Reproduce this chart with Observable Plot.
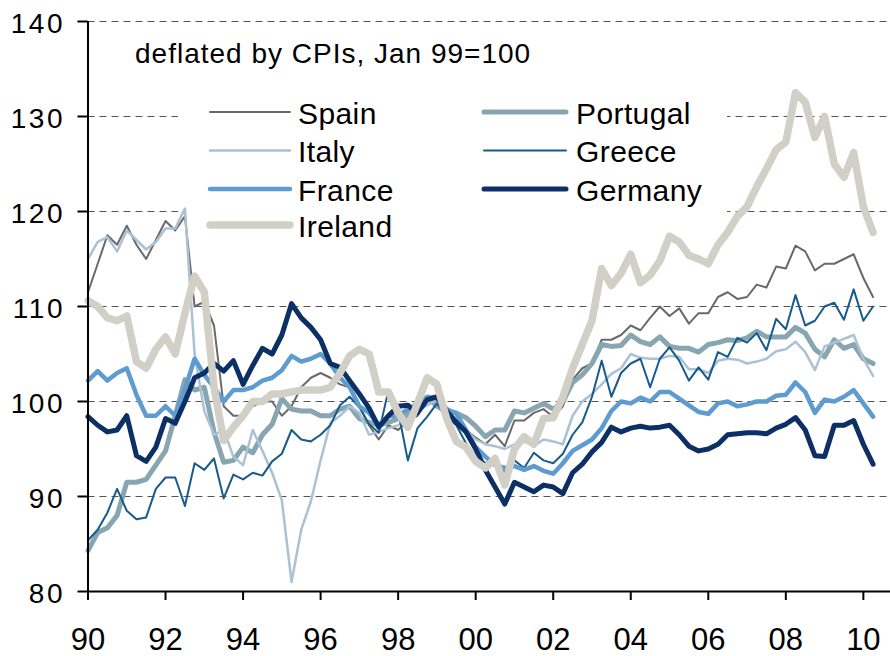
<!DOCTYPE html>
<html>
<head>
<meta charset="utf-8">
<script src="https://cdn.jsdelivr.net/npm/d3@7"></script>
<script src="https://cdn.jsdelivr.net/npm/@observablehq/plot@0.6"></script>
<style>
  html, body { margin: 0; padding: 0; background: #fff; }
  #wrap { position: relative; width: 890px; height: 656px; font-family: "Liberation Sans", Arial, sans-serif; }
  #wrap svg { display: block; }
  #overlay { position: absolute; left: 0; top: 0; pointer-events: none; }
  [aria-label="y-axis tick label"] { letter-spacing: 2.5px; }
</style>
</head>
<body>
<div id="wrap"></div>
<script>
// Quarterly readings, first quarter = Jan 1990, last = Apr 2010
const startYear = 1990;
const stepYears = 0.25;

const spain = [111.5,114.5,117.5,116.5,118.5,116.5,115.0,117.0,119.0,118.0,119.5,110.0,110.5,108.0,99.5,98.5,98.5,99.5,100.0,100.0,
  98.5,99.5,101.5,102.5,103.0,102.5,101.8,101.5,99.5,97.5,96.0,97.5,97.0,98.0,98.5,100.3,99.5,98.5,98.0,97.0,
  96.2,95.5,96.5,95.3,98.0,98.0,98.8,99.2,98.4,99.5,102.3,103.5,104.0,106.5,106.5,107.0,108.0,107.5,108.8,110.0,
  109.0,109.8,108.2,109.3,109.3,111.0,111.5,110.8,111.0,112.3,112.0,114.2,114.0,116.4,115.8,113.8,114.5,114.5,115.0,115.5,113.0,111.0];

const portugal = [84.3,86.2,86.7,88.0,91.5,91.5,91.8,93.3,94.8,98.5,102.3,101.2,101.5,96.8,93.6,93.8,95.2,94.6,96.5,97.6,
  100.3,99.2,99.0,99.0,98.5,98.5,99.2,99.5,98.2,97.8,97.5,97.8,98.2,98.6,100.0,100.4,99.5,99.0,98.8,98.3,
  97.4,96.3,97.0,97.0,99.0,98.8,99.3,99.8,99.2,100.0,102.0,102.8,104.0,106.0,105.8,105.9,107.0,106.3,106.0,106.8,
  105.8,105.6,105.6,105.2,106.0,106.2,106.5,106.4,106.7,107.4,106.8,106.8,106.8,107.8,107.2,105.5,104.7,106.5,105.6,106.0,104.5,104.0];

const italy = [115.0,116.8,117.3,115.8,118.0,117.0,116.0,116.8,118.2,118.2,120.3,105.0,99.0,96.5,97.0,94.2,93.3,97.0,94.8,92.5,
  89.6,81.0,86.5,89.5,93.8,97.7,98.5,99.5,98.8,96.5,96.8,97.2,97.5,98.2,99.0,99.6,100.2,99.2,98.0,97.0,
  96.0,95.5,95.3,95.0,95.5,95.8,95.3,96.0,95.8,95.5,98.5,100.0,100.8,101.8,102.9,103.5,105.0,104.6,104.5,104.5,
  104.8,104.7,103.4,103.4,103.0,104.3,104.5,104.4,104.0,104.2,104.5,105.3,105.5,106.3,105.2,103.3,105.8,106.2,106.6,107.0,104.5,102.7];

const greece = [85.4,86.5,88.3,90.8,88.5,87.6,87.8,90.8,92.0,92.0,89.0,93.5,92.8,94.0,89.8,92.3,91.8,92.5,92.2,93.7,
  94.5,97.0,96.0,95.8,96.5,97.5,99.6,100.5,99.4,97.6,96.7,101.2,99.0,93.8,97.2,98.4,99.8,98.4,97.5,95.6,
  94.2,93.5,94.0,92.5,93.8,93.0,94.6,93.8,93.5,94.5,96.5,97.8,100.5,104.3,100.5,103.0,104.0,104.5,101.5,104.5,
  105.7,104.3,102.2,103.6,102.3,105.2,104.7,106.7,106.2,107.2,105.4,108.7,107.6,111.2,108.0,108.5,110.0,110.4,108.6,111.8,108.5,110.0];

const france = [102.2,103.2,102.2,103.0,103.5,100.7,98.5,98.5,99.5,98.5,101.3,104.5,102.8,101.5,100.0,101.2,101.2,101.5,102.2,102.5,
  103.3,104.8,104.2,104.5,105.0,104.0,102.5,101.5,99.5,98.8,97.5,98.5,98.5,99.2,99.5,100.5,100.3,99.2,98.7,97.0,
  95.2,94.2,93.3,93.0,93.2,92.8,93.2,92.7,92.4,93.5,94.8,95.4,96.0,97.2,99.0,100.0,99.8,100.4,100.0,101.0,
  101.0,100.3,99.6,98.9,98.7,99.8,100.0,99.5,99.7,100.0,100.0,100.6,100.7,102.0,101.0,98.8,100.2,100.0,100.5,101.2,99.8,98.4];

const germany = [98.4,97.5,96.8,97.0,98.5,94.3,93.7,95.2,98.2,97.7,100.0,102.5,103.0,104.0,103.2,104.3,101.8,103.8,105.6,105.0,
  107.0,110.3,108.8,107.8,106.5,104.0,103.6,102.2,100.8,99.3,97.3,98.5,99.5,99.6,98.8,100.2,100.5,99.0,97.8,96.8,
  95.0,92.8,91.0,89.2,91.5,91.0,90.5,91.2,91.0,90.3,92.5,93.4,94.7,95.7,97.3,96.8,97.2,97.4,97.2,97.3,
  97.5,96.5,95.3,94.8,95.0,95.5,96.5,96.6,96.7,96.7,96.6,97.2,97.6,98.3,97.0,94.3,94.2,97.5,97.5,98.0,95.5,93.4];

const ireland = [110.6,110.0,108.8,108.5,109.0,104.2,103.5,105.5,106.8,105.0,109.3,113.2,111.5,101.5,95.9,97.3,98.5,100.0,100.0,100.8,
  100.8,101.0,101.2,101.2,101.2,101.5,103.0,104.8,105.5,105.0,101.0,101.0,98.8,97.3,99.8,102.5,101.8,98.2,95.8,95.2,
  93.7,93.0,94.0,91.2,95.0,96.3,95.5,98.2,98.3,100.5,103.5,106.0,108.5,114.0,112.2,113.5,115.5,112.5,113.3,114.8,
  117.4,116.8,115.4,115.0,114.5,116.5,117.8,119.5,120.5,122.6,124.5,126.5,127.3,132.5,131.5,127.8,130.0,125.0,123.6,126.2,120.5,117.8];

const countries = ["Spain", "Portugal", "Italy", "Greece", "France", "Germany", "Ireland"];
const seriesValues = [spain, portugal, italy, greece, france, germany, ireland];
const colors = ["#6b6868", "#87a6b0", "#abc2d5", "#175a8c", "#5d9bd1", "#0c3066", "#d2cfc6"];
const widths = [2, 5, 2.5, 2, 4.5, 5, 7.5];

const yTicks = [80, 90, 100, 110, 120, 130, 140];
const xTicks = [1990, 1992, 1994, 1996, 1998, 2000, 2002, 2004, 2006, 2008, 2010];
const xTickLabels = ["90", "92", "94", "96", "98", "00", "02", "04", "06", "08", "10"];
const subtitle = "deflated by CPIs, Jan 99=100";

const tables = seriesValues.map((vals, k) =>
  vals.map((v, i) => ({country: countries[k], t: startYear + i * stepYears, v})));

const chart = Plot.plot({
  width: 890,
  height: 656,
  marginLeft: 87.5,
  marginRight: 0,
  marginTop: 21,
  marginBottom: 65,
  x: {domain: [1990, 2010.7]},
  y: {domain: [80, 140]},
  style: {fontFamily: '"Liberation Sans", Arial, sans-serif', color: "#000", background: "#fff", overflow: "visible"},
  marks: [
    Plot.gridY(yTicks.filter(d => d > 80), {stroke: "#555", strokeOpacity: 1, strokeWidth: 1.1, strokeDasharray: "7,5"}),
    ...tables.map((rows, k) => Plot.line(rows, {
      x: "t", y: "v", stroke: colors[k], strokeWidth: widths[k],
      strokeLinejoin: "round", strokeLinecap: "round"
    })),
    Plot.ruleX([1990], {stroke: "#000", strokeWidth: 2}),
    Plot.ruleY([80], {stroke: "#000", strokeWidth: 2}),
    // y ticks (marks only) and y labels (nudged slightly down, as in the original)
    Plot.axisY(yTicks, {tickSize: 10, stroke: "#000", strokeWidth: 2, label: null, tickFormat: () => ""}),
    Plot.axisY(yTicks, {tickSize: 0, tickPadding: 23, fontSize: 28, dy: 3, label: null}),
    Plot.axisX(xTicks, {tickSize: 9, tickPadding: 27, fontSize: 31, stroke: "#000", strokeWidth: 2, label: null,
      tickFormat: (d) => xTickLabels[xTicks.indexOf(d)]})
  ]
});

const wrap = document.getElementById("wrap");
wrap.appendChild(chart);

// White legend box hides the gridlines behind the legend (data stays on top)
const ns = "http://www.w3.org/2000/svg";
const grid = chart.querySelector('[aria-label="y-grid"]');
if (grid) {
  const box = document.createElementNS(ns, "rect");
  box.setAttribute("x", 178); box.setAttribute("y", 90);
  box.setAttribute("width", 549); box.setAttribute("height", 156);
  box.setAttribute("fill", "#fff");
  grid.parentNode.insertBefore(box, grid.nextSibling);
}

// Legend and subtitle overlay
const ov = document.createElementNS(ns, "svg");
ov.setAttribute("id", "overlay");
ov.setAttribute("width", 890);
ov.setAttribute("height", 656);
wrap.appendChild(ov);

const sub = document.createElementNS(ns, "text");
sub.setAttribute("x", 135);
sub.setAttribute("y", 63);
sub.setAttribute("font-size", 28);
sub.setAttribute("letter-spacing", "1");
sub.setAttribute("fill", "#000");
sub.textContent = subtitle;
ov.appendChild(sub);

const legendOrder = ["Spain", "Portugal", "Italy", "Greece", "France", "Germany", "Ireland"];
const colX = [[210, 290, 298], [484, 566, 576]];
const rowY = [112, 150.5, 189, 225];
legendOrder.forEach((name, j) => {
  const k = countries.indexOf(name);
  const col = j % 2, row = Math.floor(j / 2);
  const [x1, x2, tx] = colX[col];
  const y = rowY[row];
  const ln = document.createElementNS(ns, "line");
  ln.setAttribute("x1", x1); ln.setAttribute("x2", x2);
  ln.setAttribute("y1", y); ln.setAttribute("y2", y);
  ln.setAttribute("stroke", colors[k]);
  ln.setAttribute("stroke-width", widths[k]);
  ln.setAttribute("stroke-linecap", "round");
  ov.appendChild(ln);
  const t = document.createElementNS(ns, "text");
  t.setAttribute("x", tx);
  t.setAttribute("y", y + 11.5);
  t.setAttribute("font-size", 30);
  t.setAttribute("letter-spacing", "0.4");
  t.setAttribute("fill", "#000");
  t.textContent = name;
  ov.appendChild(t);
});
</script>
</body>
</html>
